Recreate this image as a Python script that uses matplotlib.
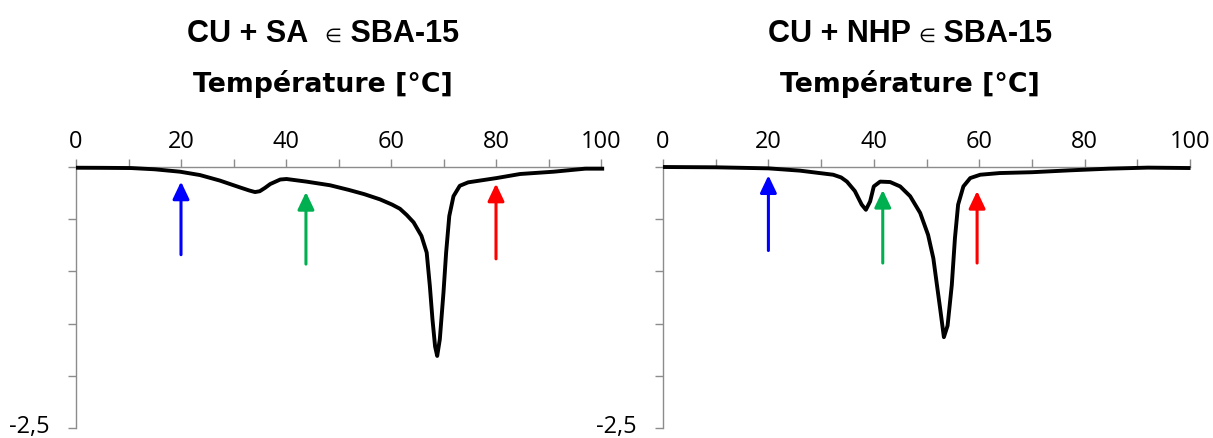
import matplotlib
matplotlib.use("Agg")
import matplotlib.pyplot as plt
from matplotlib.ticker import FixedLocator, MultipleLocator, NullFormatter

# ---- data ----
temp_sa = [0, 5, 10.5, 15, 19.8, 23.6, 27.4, 31.2, 33.0, 34.1, 35.0, 36.0, 37.0, 38.9, 40.1,
           43.9, 48.4, 52, 54.9, 57.9, 60.2, 61.7, 63.0, 64.3, 65.8, 66.8, 67.4, 67.9, 68.4,
           68.8, 69.3, 70.0, 70.5, 71.1, 71.9, 73.1, 74.7, 80.1, 84.6, 91, 97, 100.6]
dsc_sa = [-0.007, -0.008, -0.01, -0.022, -0.045, -0.077, -0.13, -0.195, -0.225, -0.24, -0.232,
          -0.2, -0.163, -0.12, -0.115, -0.14, -0.175, -0.22, -0.26, -0.31, -0.36, -0.40, -0.46,
          -0.53, -0.66, -0.82, -1.14, -1.46, -1.72, -1.81, -1.65, -1.20, -0.82, -0.47, -0.28,
          -0.18, -0.147, -0.106, -0.067, -0.045, -0.016, -0.016]

temp_nhp = [0, 10.1, 20, 26.0, 32.3, 33.8, 34.9, 36.4, 37.7, 38.5, 39.3, 40.0, 41.2, 43.1, 45.0,
            46.9, 48.8, 50.3, 51.3, 51.9, 52.6, 53.3, 54.0, 54.8, 55.4, 56.0, 57.0, 58.3, 60.2,
            63.9, 70, 77.2, 84.6, 92, 100.1]
dsc_nhp = [0, -0.003, -0.013, -0.035, -0.074, -0.1, -0.14, -0.23, -0.36, -0.41, -0.33, -0.186,
           -0.14, -0.144, -0.186, -0.28, -0.44, -0.65, -0.875, -1.10, -1.36, -1.63, -1.52, -1.13,
           -0.68, -0.36, -0.186, -0.106, -0.074, -0.058, -0.05, -0.032, -0.016, -0.006, -0.01]

# arrows: x position, tail value, tip value
arrows_sa_x = [20, 43.8, 80]
arrows_sa_tail = [-0.84, -0.93, -0.88]
arrows_sa_tip = [-0.14, -0.24, -0.16]
arrows_nhp_x = [20, 41.7, 59.6]
arrows_nhp_tail = [-0.80, -0.92, -0.92]
arrows_nhp_tip = [-0.08, -0.22, -0.23]
arrow_colors = ["#0000FF", "#00B050", "#FF0000"]

title_parts = [("CU + SA  ", "\u2208", " SBA-15"), ("CU + NHP ", "\u2208", " SBA-15")]
xlabel = "Température [°C]"
xticks = [0, 20, 40, 60, 80, 100]
yticks = [-2.5, -2.0, -1.5, -1.0, -0.5, 0.0]
ymin_label = "-2,5"

W, H = 1213, 438
fig = plt.figure(figsize=(W / 100, H / 100), dpi=100)
renderer = fig.canvas.get_renderer()


def composite_text(cx_px, base_px, parts):
    texts = []
    for s, size, weight, fam in parts:
        t = fig.text(0, 1 - base_px / H, s, fontsize=size, fontweight=weight, family=fam,
                     ha="left", va="baseline")
        texts.append(t)
    widths = [t.get_window_extent(renderer).width for t in texts]
    x = cx_px - sum(widths) / 2
    for t, w in zip(texts, widths):
        t.set_x(x / W)
        x += w


panels = [
    (76, 601, temp_sa, dsc_sa, arrows_sa_x, arrows_sa_tail, arrows_sa_tip, title_parts[0], 323),
    (663, 1190, temp_nhp, dsc_nhp, arrows_nhp_x, arrows_nhp_tail, arrows_nhp_tip, title_parts[1], 910),
]
top_px, bot_px = 167, 428
gray = "#8c8c8c"
for (x0, x1, t, d, ax_x, ax_tail, ax_tip, tparts, cx) in panels:
    ax = fig.add_axes([x0 / W, 1 - bot_px / H, (x1 - x0) / W, (bot_px - top_px) / H])
    ax.plot(t, d, color="black", lw=2.8, clip_on=False, solid_joinstyle="round",
            solid_capstyle="butt", zorder=3)
    ax.set_xlim(0, 100)
    ax.set_ylim(-2.5, 0)
    for side in ["right", "bottom"]:
        ax.spines[side].set_visible(False)
    for side in ["top", "left"]:
        ax.spines[side].set_color(gray)
        ax.spines[side].set_linewidth(1.0)
    ax.xaxis.tick_top()
    ax.xaxis.set_major_locator(FixedLocator(xticks))
    ax.xaxis.set_minor_locator(MultipleLocator(10))
    ax.yaxis.set_major_locator(FixedLocator(yticks))
    ax.yaxis.set_major_formatter(NullFormatter())
    ax.tick_params(axis="x", which="both", direction="out", length=5.5, color=gray, width=1.0,
                   labelsize=17, pad=3.5)
    ax.tick_params(axis="y", direction="out", length=6, color=gray, width=1.0)
    for lab in ax.get_xticklabels():
        lab.set_fontfamily("Open Sans")
    # label of the lowest y tick
    ax.annotate(ymin_label, xy=(0, yticks[0]), xycoords="data",
                xytext=(-19, 0.5), textcoords="offset points", ha="right", va="center",
                fontsize=17, family="Open Sans", annotation_clip=False)
    for xx, tl, tp, c in zip(ax_x, ax_tail, ax_tip, arrow_colors):
        ax.annotate("", xy=(xx, tp), xytext=(xx, tl),
                    arrowprops=dict(arrowstyle="-|>,head_length=1.05,head_width=0.5",
                                    color=c, lw=2.2, shrinkA=0, shrinkB=0))
    composite_text(cx, 42, [(tparts[0], 22, "bold", "Liberation Sans"),
                            (tparts[1], 14, "normal", "DejaVu Sans"),
                            (tparts[2], 22, "bold", "Liberation Sans")])
    fig.text(cx / W, 1 - 92 / H, xlabel, ha="center", va="baseline", fontsize=19.3,
             fontweight="bold", family="DejaVu Sans")

fig.savefig("out.png", dpi=100)
